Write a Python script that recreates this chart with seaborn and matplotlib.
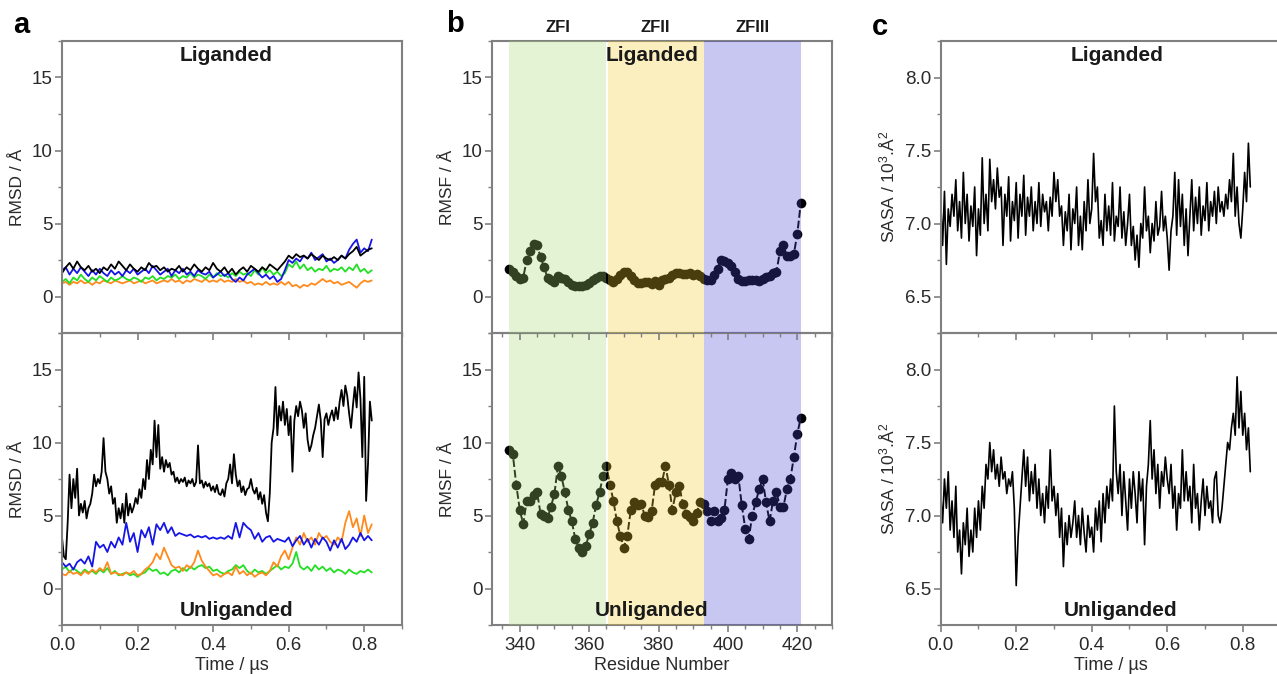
import numpy as np
import matplotlib
matplotlib.use("Agg")
import matplotlib.pyplot as plt
import matplotlib.transforms as mtransforms
from matplotlib.ticker import MultipleLocator
import seaborn as sns

sns.set_theme(style="white")
plt.rcParams['font.family'] = ['Liberation Sans', 'DejaVu Sans']
plt.rcParams['mathtext.fontset'] = 'custom'
plt.rcParams['mathtext.rm'] = 'Liberation Sans'
plt.rcParams['mathtext.it'] = 'Liberation Sans'

# ---------------- panel a : RMSD (Å) vs time (µs) ----------------
# liganded, 0.00 .. 0.82 us every 0.01
lig_black = [1.6, 2.0, 2.3, 1.9, 2.4, 2.0, 1.8, 2.1, 1.7, 1.9, 1.6, 2.0, 1.8, 2.2, 1.9, 2.4, 2.1, 1.8, 2.2, 1.9,
             1.7, 2.0, 1.8, 2.3, 2.0, 2.1, 1.8, 2.0, 1.7, 1.9, 1.8, 2.1, 1.7, 2.0, 1.8, 2.2, 1.9, 1.7, 2.0, 1.8,
             2.3, 1.9, 1.7, 2.0, 1.6, 1.9, 1.5, 1.8, 2.0, 1.7, 2.1, 1.9, 1.7, 2.0, 1.8, 2.2, 2.0, 1.8, 2.1, 2.4,
             2.8, 2.6, 2.9, 2.7, 2.8, 2.6, 2.9, 2.7, 2.5, 2.8, 2.6, 2.5, 2.7, 2.5, 2.8, 2.6, 2.9, 3.1, 3.4, 2.8,
             3.0, 3.2, 3.3]
lig_blue = [1.8, 2.0, 1.5, 1.9, 1.6, 2.0, 1.7, 1.4, 1.8, 1.5, 1.9, 1.6, 1.4, 1.8, 1.5, 1.7, 1.4, 1.8, 1.6, 1.9,
            1.5, 1.7, 1.9, 1.6, 2.1, 1.8, 1.5, 1.7, 1.9, 1.4, 1.8, 1.6, 1.9, 1.5, 1.7, 1.4, 1.8, 1.6, 1.5, 1.7,
            1.3, 1.5, 1.7, 1.4, 1.6, 1.2, 1.0, 1.3, 1.1, 1.5, 1.7, 1.9, 1.6, 1.3, 1.5, 1.2, 1.4, 1.0, 1.2, 1.8,
            2.5, 2.3, 2.6, 2.4, 2.8, 2.6, 3.0, 2.5, 2.7, 2.9, 2.4, 2.6, 2.3, 2.5, 2.8, 2.6, 3.2, 3.6, 3.9, 3.0,
            3.3, 3.1, 3.9]
lig_green = [1.0, 1.2, 0.9, 1.3, 1.1, 1.5, 1.2, 1.0, 1.3, 1.1, 1.4, 1.2, 1.0, 1.3, 1.1, 1.2, 1.4, 1.2, 1.1, 1.3,
             1.2, 1.0, 1.3, 1.2, 1.4, 1.1, 1.3, 1.2, 1.4, 1.3, 1.5, 1.2, 1.4, 1.3, 1.6, 1.3, 1.5, 1.4, 1.2, 1.5,
             1.3, 1.6, 1.4, 1.5, 1.3, 1.6, 1.4, 1.7, 1.5, 1.6, 1.4, 1.8, 1.5, 2.0, 1.6, 1.8, 1.5, 1.7, 1.4, 1.6,
             2.2, 2.0, 2.4, 1.9, 2.2, 1.8, 2.0, 1.7, 1.9, 1.8, 2.1, 1.7, 1.9, 1.8, 2.0, 1.7, 2.0, 1.8, 2.2, 1.7,
             1.9, 1.6, 1.8]
lig_orange = [0.9, 1.0, 0.8, 1.0, 0.9, 1.1, 0.9, 1.0, 0.8, 1.0, 0.9, 1.1, 1.0, 0.9, 1.1, 1.0, 0.9, 1.0, 1.1, 0.9,
              1.0, 1.1, 0.9, 1.0, 1.1, 0.9, 1.0, 1.1, 1.0, 1.2, 1.0, 1.1, 0.9, 1.1, 1.0, 1.2, 1.1, 1.0, 1.2, 1.0,
              1.1, 1.0, 1.2, 1.0, 1.1, 1.0, 1.2, 1.0, 1.1, 0.9, 1.0, 0.8, 0.9, 0.8, 1.0, 0.8, 0.9, 0.8, 1.0, 0.8,
              1.0, 0.7, 0.8, 0.6, 0.8, 0.7, 0.9, 0.8, 1.0, 1.2, 1.0, 1.1, 0.9, 1.0, 0.8, 0.9, 1.0, 0.8, 0.6, 0.9,
              1.1, 1.0, 1.1]

# unliganded black, every 0.005 us
unl_black = [3.5, 2.2, 2.0, 4.5, 7.8, 5.5, 7.5, 6.2, 8.2, 5.0,
             5.8, 5.2, 6.0, 4.8, 5.5, 5.8, 6.5, 7.8, 7.0, 7.5,
             7.2, 8.0, 10.3, 8.0, 7.5, 6.5, 7.0, 5.8, 6.2, 4.5,
             5.5, 4.8, 5.8, 4.5, 6.5, 5.0, 5.8, 5.2, 5.6, 6.2,
             5.8, 6.8, 6.2, 7.5, 6.8, 8.8, 7.5, 9.5, 8.5, 11.5,
             9.0, 11.2, 8.2, 9.0, 8.0, 8.8, 8.3, 8.6, 7.8, 8.0,
             7.3, 7.6, 7.2, 7.5, 7.3, 7.6, 7.0, 7.4, 7.2, 7.5,
             7.0, 7.3, 9.8, 7.2, 7.4, 6.9, 7.3, 7.0, 7.2, 6.7,
             7.0, 6.6, 7.1, 6.5, 6.4, 6.8, 6.3, 7.2, 7.5, 8.5,
             7.2, 9.2, 7.8, 7.0, 7.4, 6.6, 7.0, 6.4, 6.8, 6.9,
             7.5, 6.8, 6.5, 6.9, 6.1, 6.6, 5.8, 6.4, 5.2, 4.6,
             6.5, 10.0, 11.0, 13.8, 10.5, 12.5, 11.5, 12.8, 11.2, 12.3,
             10.5, 11.8, 8.0, 11.5, 12.5, 11.8, 12.8, 12.2, 11.0, 12.0,
             10.2, 9.4, 9.8, 10.5, 11.0, 11.8, 12.6, 11.5, 9.0, 11.6,
             12.0, 11.2, 11.8, 12.2, 11.5, 12.4, 11.6, 12.8, 13.6, 12.5,
             13.9, 13.2, 12.0, 11.0, 12.5, 13.8, 12.4, 14.8, 13.0, 9.0,
             14.5, 6.0, 8.5, 12.8, 11.5]
# unliganded colour traces, every 0.01 us
unl_blue = [1.8, 1.5, 1.7, 1.3, 1.8, 2.0, 1.7, 2.2, 1.5, 3.2, 2.8, 3.0, 2.5, 3.2, 2.8, 3.5, 3.0, 4.5, 3.2, 3.8,
            2.5, 4.0, 3.5, 4.2, 3.0, 4.4, 4.0, 4.5, 3.8, 4.2, 3.6, 3.8, 3.7, 3.6, 3.7, 3.5, 3.6, 3.5, 3.6, 3.4,
            3.5, 3.4, 3.5, 3.4, 3.6, 3.4, 4.5, 3.5, 4.5, 4.2, 4.0, 3.4, 3.8, 3.2, 3.5, 3.6, 3.2, 3.4, 3.3, 3.2,
            3.5, 2.9, 3.3, 3.6, 3.0, 3.4, 2.8, 3.4, 3.0, 3.5, 3.2, 2.6, 3.3, 2.8, 3.4, 2.7, 3.0, 3.5, 3.2, 3.8,
            3.3, 3.6, 3.3]
unl_orange = [1.0, 0.9, 1.2, 1.0, 1.1, 0.9, 1.2, 1.0, 1.3, 1.1, 1.4, 1.2, 1.8, 1.0, 1.1, 1.0, 0.9, 1.1, 1.0, 1.2,
              0.9, 1.0, 1.3, 1.5, 1.8, 2.4, 2.0, 2.8, 2.2, 1.6, 1.4, 1.5, 1.2, 1.6, 1.4, 1.8, 2.6, 1.9, 1.5, 1.2,
              0.9, 1.0, 0.8, 1.0, 1.1, 0.9, 1.5, 1.0, 1.2, 0.9, 1.1, 0.8, 1.0, 1.1, 0.9, 1.2, 1.8, 1.5, 2.2, 2.6,
              2.0, 2.8, 3.5, 3.0, 3.8, 3.2, 3.5, 3.0, 3.8, 3.4, 3.6, 3.2, 3.0, 3.5, 3.2, 4.5, 5.3, 4.2, 4.8, 3.6,
              5.0, 3.8, 4.4]
unl_green = [1.3, 1.5, 1.1, 1.4, 1.2, 1.0, 1.3, 1.1, 1.2, 1.0, 1.3, 1.1, 1.4, 1.0, 1.2, 0.9, 1.0, 1.1, 0.9, 1.0,
             0.8, 1.0, 1.1, 1.4, 1.2, 1.3, 1.0, 1.1, 0.9, 1.2, 1.3, 1.1, 1.4, 1.2, 1.5, 1.3, 1.5, 1.6, 1.4, 1.5,
             1.2, 1.3, 1.1, 1.0, 1.2, 1.3, 1.6, 1.4, 1.6, 1.2, 1.0, 1.3, 1.1, 1.2, 1.0, 1.2, 1.4, 1.6, 1.3, 1.5,
             1.4, 1.7, 2.5, 1.5, 1.3, 1.5, 1.2, 1.6, 1.3, 1.5, 1.2, 1.4, 1.1, 1.3, 1.2, 1.0, 1.3, 1.1, 1.0, 1.2,
             1.1, 1.3, 1.1]

# ---------------- panel b : RMSF (Å) per residue 337..421 ----------------
rmsf_lig = [1.9, 1.7, 1.4, 1.2, 1.3, 2.5, 3.1, 3.6, 3.5, 2.7, 2.0, 1.3, 1.1, 1.0, 1.4, 1.3, 1.2, 1.0, 0.8, 0.75,
            0.75, 0.75, 0.8, 0.9, 1.1, 1.3, 1.4, 1.4, 1.3, 1.1, 1.0, 1.2, 1.5, 1.65, 1.65, 1.4, 1.1, 0.9, 0.9, 1.0,
            1.0, 0.85, 1.05, 0.8, 1.15, 1.2, 1.3, 1.5, 1.6, 1.6, 1.55, 1.55, 1.6, 1.5, 1.55, 1.4, 1.2, 1.1, 1.1, 1.5,
            1.9, 2.5, 2.45, 2.3, 2.1, 1.65, 1.2, 1.05, 1.05, 1.15, 1.15, 1.15, 1.05, 1.2, 1.35, 1.4, 1.6, 1.7, 3.1, 3.5,
            2.8, 2.8, 2.9, 4.3, 6.4]
rmsf_unl = [9.5, 9.2, 7.1, 5.4, 4.4, 6.0, 6.0, 6.4, 6.6, 5.1, 5.0, 4.8, 5.6, 6.5, 8.4, 7.7, 6.6, 5.4, 4.6, 3.4,
            2.8, 2.5, 2.9, 3.7, 4.5, 5.7, 6.6, 7.7, 8.4, 7.1, 6.0, 4.6, 3.6, 2.8, 3.6, 5.4, 5.9, 5.7, 5.8, 5.0,
            4.9, 5.3, 7.1, 7.3, 7.3, 8.4, 7.1, 5.4, 6.6, 7.0, 5.8, 5.1, 4.9, 4.6, 5.2, 5.9, 5.8, 5.3, 4.6, 5.3,
            4.6, 4.8, 5.4, 7.5, 7.9, 7.5, 7.7, 5.7, 4.1, 3.4, 5.0, 5.9, 6.8, 7.5, 5.9, 4.6, 6.0, 6.6, 5.6, 5.6,
            6.8, 7.5, 9.0, 10.6, 11.7]
residue_start = 337
domains = ["ZFI", "ZFII", "ZFIII"]
domain_edges = [337, 365, 393, 421]
domain_colors = ["#a5da70", "#f8cd2d", "#4848d4"]

# ---------------- panel c : SASA (10^3 Å^2), every 0.005 us ----------------
sasa_lig = [7.15, 6.85, 7.22, 6.72, 7.1, 6.98, 7.2, 7.05, 7.3, 6.95,
            7.15, 6.9, 7.35, 7.0, 7.2, 6.88, 7.12, 6.98, 7.25, 6.78,
            7.1, 6.92, 7.45, 7.0, 7.2, 6.95, 7.44, 7.15, 7.3, 7.1,
            7.38, 7.18, 7.25, 6.85, 7.2, 7.05, 7.32, 6.88, 7.15, 7.02,
            7.28, 6.9, 7.2, 7.05, 7.33, 6.92, 7.18, 7.05, 7.25, 6.95,
            7.15, 7.0, 7.28, 6.98, 7.2, 7.08, 7.15, 6.95, 7.18, 7.05,
            7.35, 7.15, 7.3, 7.05, 7.12, 6.85, 7.08, 6.95, 7.2, 6.82,
            7.1, 7.0, 7.25, 6.85, 7.05, 6.82, 7.15, 6.95, 7.3, 7.0,
            7.1, 7.48, 7.15, 7.25, 6.9, 7.02, 6.85, 7.2, 6.95, 7.12,
            6.92, 7.28, 6.88, 7.05, 6.98, 7.25, 6.9, 7.08, 6.85, 7.0,
            7.2, 6.85, 6.98, 6.75, 6.92, 6.7, 7.0, 6.9, 7.25, 6.95,
            7.05, 6.8, 7.0, 6.88, 7.15, 6.92, 6.98, 7.22, 6.95, 7.05,
            6.9, 6.68, 6.95, 7.05, 7.35, 6.92, 7.3, 6.98, 7.2, 6.85,
            7.1, 6.78, 7.05, 7.3, 6.95, 7.18, 7.0, 7.25, 6.92, 7.12,
            7.02, 7.28, 6.95, 7.15, 7.05, 7.22, 7.0, 7.25, 7.08, 7.15,
            7.05, 7.2, 7.1, 7.3, 7.15, 7.48, 7.05, 7.25, 7.0, 6.9,
            7.1, 7.35, 7.15, 7.55, 7.25]
sasa_unl = [7.15, 6.95, 7.25, 7.05, 7.3, 6.9, 7.1, 6.85, 7.2, 6.75,
            6.9, 6.6, 6.95, 6.8, 7.05, 6.72, 6.9, 6.75, 7.05, 6.85,
            7.1, 6.9, 7.2, 7.05, 7.35, 7.25, 7.5, 7.3, 7.45, 7.25,
            7.35, 7.2, 7.4, 7.25, 7.3, 7.15, 7.25, 7.2, 7.3, 7.05,
            6.52, 6.85, 7.05, 7.25, 7.45, 7.2, 7.4, 7.1, 7.3, 7.15,
            7.35, 7.05, 7.25, 7.0, 7.15, 6.95, 7.2, 7.05, 7.45, 7.1,
            7.2, 7.0, 7.15, 6.85, 7.05, 6.65, 6.95, 6.8, 7.0, 6.85,
            6.95, 7.1, 6.85, 7.0, 6.8, 7.05, 6.88, 6.75, 7.0, 6.85,
            6.92, 6.75, 7.05, 6.9, 7.1, 6.82, 7.15, 6.95, 7.2, 7.05,
            7.25, 7.1, 7.75, 7.3, 7.15, 7.35, 7.0, 7.3, 7.1, 6.9,
            7.25, 7.05, 7.3, 7.15, 6.95, 7.3, 7.1, 7.25, 6.8, 7.2,
            7.35, 7.65, 7.25, 7.45, 7.15, 7.35, 7.05, 7.3, 7.2, 7.4,
            7.25, 7.15, 7.35, 7.05, 7.2, 6.9, 7.15, 7.05, 7.45, 7.1,
            7.3, 7.1, 7.2, 6.95, 7.35, 7.05, 7.15, 6.9, 7.1, 7.25,
            7.0, 7.2, 7.05, 7.1, 6.95, 7.25, 7.3, 7.0, 6.95, 7.05,
            7.2, 7.35, 7.5, 7.45, 7.6, 7.7, 7.55, 7.95, 7.6, 7.85,
            7.55, 7.7, 7.45, 7.6, 7.3]

T_END = 0.82
TXT = "#2a2a2a"


def times(vals):
    return np.linspace(0, T_END, len(vals))


def style(ax, xmaj, xmin, ymaj, ymin, show_x):
    ax.set_facecolor("none")
    for s in ax.spines.values():
        s.set_visible(True)
        s.set_color("#808080")
        s.set_linewidth(1.5)
    ax.xaxis.set_major_locator(MultipleLocator(xmaj))
    ax.xaxis.set_minor_locator(MultipleLocator(xmin))
    ax.yaxis.set_major_locator(MultipleLocator(ymaj))
    ax.yaxis.set_minor_locator(MultipleLocator(ymin))
    ax.tick_params(which="both", direction="out", bottom=True, left=True, top=False, right=False,
                   color="#808080", labelcolor=TXT, labelsize=13.5)
    ax.tick_params(which="major", length=5, width=1.2, pad=2)
    ax.tick_params(which="minor", length=3, width=1.0)
    ax.tick_params(axis="x", which="major", pad=4)
    if not show_x:
        ax.tick_params(axis="x", labelbottom=False)
    ax.set_xlabel("")
    ax.set_ylabel("")


W, H = 1277, 674
fig = plt.figure(figsize=(W / 100, H / 100), dpi=100)


def make_axes(x0, x1):
    bot = fig.add_axes([x0 / W, (H - 625) / H, (x1 - x0) / W, 292 / H])
    top = fig.add_axes([x0 / W, (H - 333) / H, (x1 - x0) / W, 292 / H])
    bot.set_zorder(1)
    top.set_zorder(2)
    return top, bot


a_top, a_bot = make_axes(62, 402)
b_top, b_bot = make_axes(492, 832)
c_top, c_bot = make_axes(940.7, 1280.5)

# ---- a ----
trace_colors = {"black": "black", "blue": "#1515e8", "green": "#22e022", "orange": "#ff8a1c"}
for ax, series in [(a_top, [(lig_orange, "orange"), (lig_green, "green"), (lig_blue, "blue"), (lig_black, "black")]),
                   (a_bot, [(unl_black, "black"), (unl_green, "green"), (unl_orange, "orange"), (unl_blue, "blue")])]:
    for vals, c in series:
        sns.lineplot(x=times(vals), y=vals, ax=ax, color=trace_colors[c], lw=1.3, estimator=None, sort=False)
    ax.set_xlim(0, 0.9)
    ax.set_ylim(-2.5, 17.5)
    style(ax, 0.2, 0.1, 5, 2.5, ax is a_bot)
    ax.yaxis.set_label_coords(-0.108, 0.5)
    ax.set_ylabel("RMSD / Å", fontsize=12.5, color=TXT)
a_bot.set_xlabel("Time / µs", fontsize=13, color=TXT, labelpad=2)
a_top.text(0.482, 0.949, "Liganded", transform=a_top.transAxes, ha="center", va="center",
           fontsize=15, fontweight="bold", color="#1a1a1a")
a_bot.text(0.514, 0.051, "Unliganded", transform=a_bot.transAxes, ha="center", va="center",
           fontsize=15, fontweight="bold", color="#1a1a1a")

# ---- b ----
for ax, vals in [(b_top, rmsf_lig), (b_bot, rmsf_unl)]:
    res = np.arange(residue_start, residue_start + len(vals))
    sns.lineplot(x=res, y=vals, ax=ax, color="black", lw=1.4, linestyle=(0, (4, 1.5)),
                 marker="o", markersize=7, markeredgewidth=0, estimator=None, sort=False)
    for i in range(3):
        ax.axvspan(domain_edges[i] + (0.3 if i == 1 else 0), domain_edges[i + 1],
                   color=domain_colors[i], alpha=0.3, lw=0, zorder=3)
    ax.set_xlim(332, 430)
    ax.set_ylim(-2.5, 17.5)
    style(ax, 20, 5, 5, 2.5, ax is b_bot)
    ax.yaxis.set_label_coords(-0.11, 0.5)
    ax.set_ylabel("RMSF / Å", fontsize=12.5, color=TXT)
b_bot.set_xlabel("Residue Number", fontsize=13, color=TXT, labelpad=2)
b_top.text(0.47, 0.949, "Liganded", transform=b_top.transAxes, ha="center", va="center",
           fontsize=15, fontweight="bold", color="#1a1a1a", zorder=5)
b_bot.text(0.47, 0.051, "Unliganded", transform=b_bot.transAxes, ha="center", va="center",
           fontsize=15, fontweight="bold", color="#1a1a1a", zorder=5)
blend = mtransforms.blended_transform_factory(b_top.transData, b_top.transAxes)
for i, name in enumerate(domains):
    b_top.text((domain_edges[i] + domain_edges[i + 1]) / 2, 1.047, name, transform=blend,
               ha="center", va="center", fontsize=12, fontweight="bold", color="#1a1a1a", clip_on=False)

# ---- c ----
for ax, vals in [(c_top, sasa_lig), (c_bot, sasa_unl)]:
    sns.lineplot(x=times(vals), y=vals, ax=ax, color="black", lw=1.2, estimator=None, sort=False)
    ax.set_xlim(0, 0.9)
    ax.set_ylim(6.25, 8.25)
    style(ax, 0.2, 0.1, 0.5, 0.25, ax is c_bot)
    ax.yaxis.set_major_formatter(matplotlib.ticker.FormatStrFormatter("%.1f"))
    ax.yaxis.set_label_coords(-0.128, 0.5)
    ax.set_ylabel("SASA / 10$^3$.Å$^2$", fontsize=12.5, color=TXT)
c_bot.set_xlabel("Time / µs", fontsize=13, color=TXT, labelpad=2)
c_top.text(0.518, 0.949, "Liganded", transform=c_top.transAxes, ha="center", va="center",
           fontsize=15, fontweight="bold", color="#1a1a1a")
c_bot.text(0.528, 0.051, "Unliganded", transform=c_bot.transAxes, ha="center", va="center",
           fontsize=15, fontweight="bold", color="#1a1a1a")

# panel letters
for x, y, lab in [(21, 25, "a"), (455, 24, "b"), (880, 27, "c")]:
    fig.text(x / W, 1 - y / H, lab, ha="center", va="center", fontsize=21, fontweight="bold", color="black")

fig.savefig("out.png", dpi=100, facecolor="white")
